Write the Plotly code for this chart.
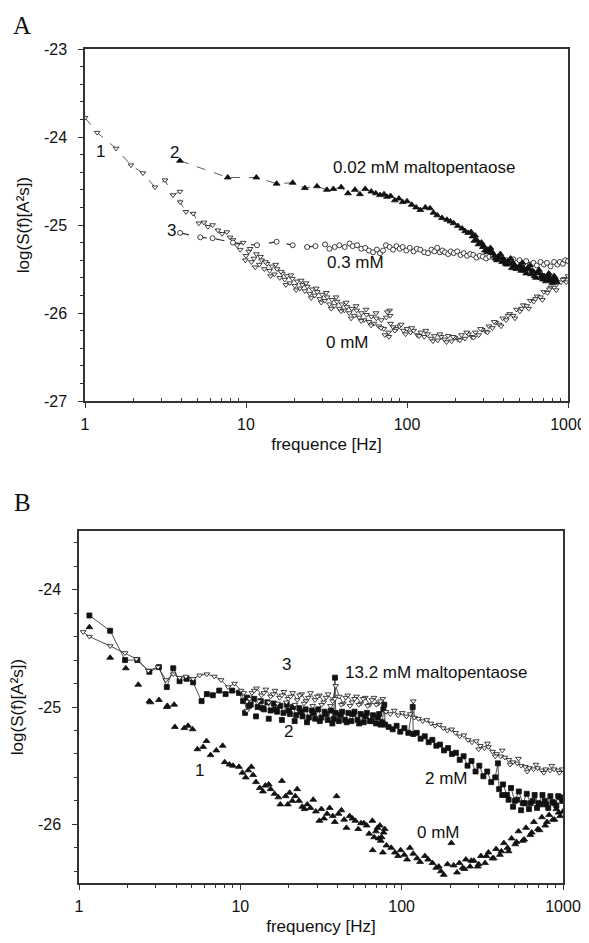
import numpy as np
import plotly.graph_objects as go

# ---------------- Panel A data ----------------
# series 1: 0 mM (open down-triangles); first points joined by dashed line
fA1 = [1.0, 1.19, 1.56, 1.93, 2.29, 2.72, 3.14, 3.52, 3.89, 3.9, 4.24, 4.70, 5.1, 5.48, 5.8, 6.2, 6.7, 7.1, 7.6, 7.96, 8.3, 8.8,
       9.2, 9.6, 10.0, 10.4, 10.8, 11.2, 11.6, 12.1, 12.5, 13.0, 13.5, 14.0, 14.5, 15.0, 15.6, 16.2, 16.8, 17.4, 18.0, 18.7,
       19.4, 20.1, 20.8, 21.6, 22.4, 23.2, 24.0, 24.9, 25.8, 26.7, 27.7, 28.7, 29.7, 30.8, 31.9, 33.0, 34.2, 35.4, 36.7, 38.0,
       39.4, 40.8, 42.3, 43.8, 45.4, 47.0, 48.7, 50.4, 52.2, 54.1, 56.0, 58.0, 60.1, 62.3, 64.5, 66.8, 69.2, 71.7, 74.3, 76.9,
       78.0, 79.0, 82, 86, 90, 95, 100, 105, 110, 116, 122, 128, 134, 141, 148, 155, 163, 171, 180, 189, 198, 208, 218, 229,
       241, 253, 266, 279, 293, 308, 323, 339, 356, 374, 393, 413, 434, 456, 479, 503, 528, 555, 583, 612, 643, 675, 709, 745,
       782, 822, 863, 906, 952, 1000]
sA1 = [-23.78, -23.95, -24.13, -24.32, -24.41, -24.57, -24.49, -24.66, -24.62, -24.74, -24.85, -24.87, -24.98, -24.97, -25.02,
       -25.00, -25.06, -25.10, -25.08, -25.14, -25.17, -25.23,
       -25.28, -25.20, -25.35, -25.30, -25.42, -25.38, -25.33, -25.45, -25.40, -25.50, -25.44, -25.52, -25.47, -25.56, -25.50,
       -25.60, -25.55, -25.62, -25.58, -25.66, -25.61, -25.69, -25.64, -25.72, -25.68, -25.75, -25.70, -25.78, -25.73, -25.80,
       -25.76, -25.84, -25.79, -25.86, -25.82, -25.90, -25.85, -25.92, -25.87, -25.95, -25.90, -25.97, -25.93, -26.00, -25.95,
       -26.03, -25.97, -26.05, -26.00, -26.08, -26.02, -26.10, -26.04, -26.12, -26.06, -26.15, -26.08, -26.18, -26.05, -26.22,
       -25.97, -26.12, -26.16, -26.18, -26.15, -26.20, -26.18, -26.22, -26.20, -26.25, -26.22, -26.27, -26.24, -26.29, -26.26,
       -26.31, -26.27, -26.30, -26.26, -26.32, -26.28, -26.30, -26.25, -26.29, -26.24, -26.27, -26.22, -26.25, -26.19, -26.21,
       -26.15, -26.17, -26.11, -26.13, -26.06, -26.08, -26.01, -26.03, -25.96, -25.98, -25.91, -25.92, -25.86, -25.87, -25.81,
       -25.82, -25.76, -25.77, -25.71, -25.71, -25.66, -25.65, -25.61, -25.58]
nA1_line = 22
# extra scattered points of the 0 mM band
fA1x = [9.9, 10.6, 11.4, 12.3, 13.2, 14.2, 15.3, 16.5, 17.7, 19.0, 20.5, 22.0, 23.6, 25.4, 27.3, 29.3, 31.5, 33.8, 36.3, 39.0,
        41.9, 45.0, 48.3, 51.9, 55.7, 59.8, 64.2, 68.9, 72.9, 75.5, 77.2, 78.6,
        84, 92, 98, 107, 119, 131, 145, 160, 176, 193, 213, 235, 259, 286, 316, 348, 384, 424, 468, 516, 570, 628, 693, 765,
        845, 930, 975]
sA1x = [-25.40, -25.27, -25.48, -25.36, -25.42, -25.58, -25.45, -25.53, -25.68, -25.57, -25.74, -25.63, -25.66, -25.83, -25.72,
        -25.88, -25.77, -25.95, -25.82, -25.98, -25.88, -26.06, -25.92, -26.09, -25.96, -26.14, -26.00, -26.17, -26.25, -25.99,
        -26.27, -26.03,
        -26.20, -26.13, -26.24, -26.17, -26.26, -26.20, -26.32, -26.24, -26.33, -26.27, -26.31, -26.22, -26.28, -26.18, -26.22,
        -26.10, -26.15, -26.03, -26.06, -25.95, -25.95, -25.84, -25.85, -25.73, -25.74, -25.62, -25.65]

# series 2: 0.02 mM (filled up-triangles)
fA2 = [3.89, 7.7, 11.6, 15.5, 19.5, 23.2, 27.6, 31.8, 34.9, 39, 43, 47.5, 51, 55, 60,
       64, 68, 72, 75, 79, 84, 89, 94, 100, 107, 114, 121, 130, 139, 146, 154, 165, 177, 186, 195, 207, 220, 230, 240, 250,
       255, 262, 271, 283, 290, 296, 305, 318, 330, 341, 355, 368, 380, 395, 410, 425, 440, 455, 470, 505, 520, 540, 560,
       580, 600, 620, 645, 660, 690, 700, 740, 760, 775, 790, 810, 830, 850]
sA2 = [-24.27, -24.46, -24.46, -24.53, -24.52, -24.58, -24.56, -24.60, -24.59, -24.57, -24.64, -24.60, -24.65, -24.59, -24.62,
       -24.64, -24.66, -24.65, -24.68, -24.67, -24.72, -24.70, -24.74, -24.73, -24.77, -24.80, -24.83, -24.80, -24.81, -24.86,
       -24.89, -24.92, -24.94, -24.96, -24.98, -25.01, -25.04, -25.07, -25.09, -25.08, -25.13, -25.18, -25.17, -25.21, -25.20,
       -25.25, -25.29, -25.28, -25.26, -25.32, -25.38, -25.36, -25.33, -25.38, -25.44, -25.41, -25.38, -25.43, -25.47, -25.46,
       -25.43, -25.52, -25.49, -25.46, -25.52, -25.58, -25.55, -25.51, -25.57, -25.62, -25.59, -25.55, -25.62, -25.63, -25.64,
       -25.60, -25.65]
nA2_line = 15
fA2x = [265, 278, 300, 315, 335, 350, 362, 375, 390, 402, 418, 432, 448, 462, 478, 495, 512, 530, 550, 570, 590, 610, 632, 655,
        680, 710, 730, 750, 770, 800, 820, 840]
sA2x = [-25.12, -25.22, -25.24, -25.31, -25.30, -25.35, -25.40, -25.37, -25.42, -25.40, -25.45, -25.43, -25.49, -25.45, -25.50,
        -25.48, -25.52, -25.49, -25.55, -25.50, -25.56, -25.53, -25.60, -25.54, -25.60, -25.58, -25.64, -25.57, -25.60, -25.66,
        -25.58, -25.62]

# series 3: 0.3 mM (open circles)
fA3 = [3.9, 5.2, 6.2, 8.3, 11.7, 15.5, 19.5, 24, 27, 31,
       33, 35.6, 38, 41, 44, 46, 49, 52, 55, 58, 61.5, 65, 68, 71, 74, 78, 82, 86, 90, 94, 99, 104, 110, 115, 121, 128, 135,
       142, 148, 154, 160, 166, 172, 180, 187, 195, 205, 215, 225, 236, 247, 258, 270, 283, 296, 310, 325, 341, 358, 376, 395,
       415, 436, 458, 480, 500, 525, 550, 580, 610, 640, 675, 710, 740, 780, 820, 860, 890, 930, 960, 1000]
sA3 = [-25.09, -25.14, -25.15, -25.20, -25.23, -25.19, -25.23, -25.25, -25.24, -25.22,
       -25.27, -25.25, -25.23, -25.25, -25.21, -25.24, -25.23, -25.27, -25.26, -25.29, -25.31, -25.28, -25.32, -25.29, -25.23,
       -25.25, -25.28, -25.24, -25.27, -25.25, -25.29, -25.26, -25.30, -25.27, -25.28, -25.31, -25.32, -25.28, -25.30, -25.26,
       -25.31, -25.29, -25.31, -25.33, -25.30, -25.32, -25.30, -25.34, -25.32, -25.35, -25.33, -25.34, -25.37, -25.35, -25.36,
       -25.38, -25.36, -25.36, -25.39, -25.37, -25.40, -25.40, -25.42, -25.39, -25.43, -25.40, -25.44, -25.41, -25.45, -25.43,
       -25.46, -25.42, -25.45, -25.43, -25.47, -25.42, -25.45, -25.42, -25.44, -25.40, -25.41]
nA3_line = 10

# ---------------- Panel B data ----------------
# series 1: 0 mM (filled up-triangles, no line)
fB1 = [1.16, 1.56, 1.95, 2.33, 2.73, 3.13, 3.5, 3.89, 2.77, 3.53, 3.93, 4.5, 4.74, 5.06, 5.42, 5.88, 6.17, 6.54, 7.1, 7.77,
       8.0, 8.56, 9.0, 9.8, 10.3, 11.2, 11.7, 12.5, 13.2, 14.3, 15.4, 17.2, 18.1, 19.1, 20.2, 17.7, 19.7, 21.9, 23.1, 25.0,
       27.2, 29.4, 31.8, 34.5, 37.4, 39.5, 30.9, 40.6, 44.0, 47.6, 51.6, 56.0, 60.7, 65.8, 69.3, 73.3, 75.1, 77.3, 67.6, 66.1,
       76.4, 86.1, 90.8, 103.8, 112.5, 124.6, 139.3, 155.2, 163.7, 182.4, 192.3, 203.2, 220.3, 238.8, 265.5, 296.1, 328.5,
       365.4, 406.4, 453.2, 505.8, 562.3, 626.7, 699.0, 776.2, 865.6, 1000,
       250, 280, 310, 345, 385, 430, 480, 530, 590, 660, 740, 820, 910, 960,
       10.8, 12.0, 13.8, 15.0, 16.3, 21.0, 22.5, 24.2, 26.0, 28.3, 33.0, 35.8, 38.5, 42.3, 45.5, 49.5, 53.8, 58.3, 62.9, 70.8,
       72.1, 74.2, 78.5, 80.5, 95.0, 98.5, 108, 118, 130, 146, 170, 175, 210, 228, 245, 270, 300, 335, 372, 415, 460, 515, 575,
       640, 715, 795, 885, 940]
sB1 = [-24.32, -24.58, -24.67, -24.81, -24.95, -24.94, -25.00, -24.98, -24.96, -24.99, -25.17, -25.18, -25.16, -25.19, -25.36,
       -25.34, -25.29, -25.41, -25.37, -25.33, -25.47, -25.49, -25.50, -25.51, -25.56, -25.54, -25.51, -25.64, -25.69, -25.67,
       -25.70, -25.77, -25.63, -25.76, -25.73, -25.83, -25.83, -25.76, -25.80, -25.87, -25.86, -25.89, -25.87, -25.91, -25.93,
       -25.76, -25.97, -25.91, -25.96, -25.93, -25.97, -25.99, -26.01, -25.97, -26.06, -26.01, -26.11, -26.07, -26.11, -26.22,
       -26.24, -26.20, -26.24, -26.26, -26.20, -26.29, -26.27, -26.33, -26.37, -26.43, -26.34, -26.16, -26.41, -26.37, -26.36,
       -26.36, -26.33, -26.29, -26.26, -26.20, -26.17, -26.14, -26.09, -26.04, -26.01, -25.96, -25.89,
       -26.30, -26.31, -26.27, -26.24, -26.21, -26.16, -26.12, -26.06, -26.03, -25.98, -25.94, -25.92, -25.87, -25.93,
       -25.60, -25.58, -25.72, -25.66, -25.74, -25.80, -25.70, -25.85, -25.83, -25.79, -25.95, -25.86, -25.98, -25.88, -26.03,
       -25.95, -26.04, -25.99, -26.08, -26.03, -26.12, -26.14, -26.04, -26.18, -26.27, -26.22, -26.30, -26.25, -26.32, -26.30,
       -26.36, -26.40, -26.35, -26.33, -26.38, -26.31, -26.34, -26.27, -26.29, -26.23, -26.23, -26.15, -26.13, -26.07, -26.05,
       -25.98, -25.96, -25.90]

# series 2: 2 mM (filled squares, solid line)
fB2 = [1.16, 1.56, 1.93, 2.3, 2.73, 3.13, 3.5, 3.84, 4.2, 4.65, 5.1, 5.75, 6.2, 6.75, 7.4, 8.1, 8.9, 9.8, 10.4, 11.0, 11.6,
       12.2, 12.8, 13.4, 14.0, 14.7, 15.4, 16.1, 16.9, 17.7, 18.5, 19.4, 20.3, 21.2, 22.2, 23.2, 24.3, 25.4, 26.6, 27.8, 29.1,
       30.4, 31.8, 33.3, 34.8, 36.4, 38.0, 38.6, 39.0, 40.8, 42.7, 44.6, 46.7, 48.8, 51.0, 53.3, 55.7, 58.2, 60.8, 63.5, 66.4,
       69.4, 72.5, 75.8, 78, 79, 83, 88, 93, 98, 104, 110, 117, 118, 124, 131, 139, 147, 155, 164, 173, 183, 194, 205, 217,
       229, 242, 256, 271, 287, 303, 321, 339, 359, 380, 395, 402, 425, 450, 476, 503, 532, 563, 596, 630, 667, 705, 746, 789,
       835, 883, 934, 988]
sB2 = [-24.22, -24.35, -24.60, -24.60, -24.70, -24.66, -24.83, -24.67, -24.78, -24.76, -24.79, -24.95, -24.89, -24.90, -24.86,
       -24.89, -24.86, -24.88, -24.95, -24.92, -24.98, -24.93, -25.00, -24.95, -25.02, -24.96, -25.03, -24.97, -25.04, -24.99,
       -25.05, -24.98, -25.06, -25.00, -25.07, -25.01, -25.08, -25.02, -25.09, -25.03, -25.10, -25.02, -25.09, -25.04, -25.11,
       -25.03, -25.10, -24.75, -25.05, -25.12, -25.04, -25.11, -25.05, -25.12, -25.04, -25.11, -25.06, -25.13, -25.05, -25.12,
       -25.07, -25.14, -25.06, -25.13, -24.98, -25.15, -25.17, -25.19, -25.16, -25.21, -25.18, -25.22, -25.00, -25.23, -25.22,
       -25.27, -25.25, -25.30, -25.28, -25.33, -25.32, -25.37, -25.35, -25.40, -25.39, -25.45, -25.42, -25.50, -25.46, -25.55,
       -25.50, -25.59, -25.55, -25.64, -25.60, -25.48, -25.70, -25.66, -25.75, -25.69, -25.80, -25.72, -25.82, -25.74, -25.82,
       -25.75, -25.82, -25.75, -25.83, -25.76, -25.82, -25.76, -25.80]
fB2x = [10.7, 11.3, 12.5, 13.7, 15.0, 16.5, 18.1, 19.9, 21.7, 23.7, 25.9, 28.4, 31.1, 34.0, 37.2, 41.7, 45.6, 49.9, 54.5, 59.5,
        65.0, 71.0, 74.0, 77.0, 420, 460, 490, 520, 550, 580, 615, 650, 690, 730, 770, 810, 860, 910, 960]
sB2x = [-25.05, -24.99, -25.08, -25.01, -25.10, -25.02, -25.11, -25.03, -25.12, -25.04, -25.13, -25.05, -25.12, -25.06, -25.14,
        -25.07, -25.13, -25.06, -25.14, -25.08, -25.12, -25.09, -25.15, -25.02, -25.75, -25.79, -25.85, -25.79, -25.88, -25.82,
        -25.87, -25.80, -25.86, -25.83, -25.80, -25.86, -25.81, -25.84, -25.77]

# series 3: 13.2 mM (open down-triangles, solid line)
fB3 = [1.06, 1.16, 1.56, 1.93, 2.27, 2.69, 3.09, 3.46, 3.84, 4.2, 4.6, 5.1, 5.6, 6.2, 6.9, 7.6, 8.4, 9.2, 10.1, 11.0, 11.8,
       12.6, 13.5, 14.4, 15.4, 16.4, 17.5, 18.6, 19.8, 21.1, 22.5, 24.0, 25.5, 27.2, 29.0, 30.9, 32.9, 35.0, 37.3, 39.0, 41.0,
       43.5, 46.3, 49.3, 52.5, 55.9, 59.5, 63.3, 67.4, 71.7, 76.3, 80, 85, 90, 95, 101, 107, 113, 118, 120, 127, 135, 143, 152,
       161, 171, 181, 192, 204, 216, 229, 243, 258, 273, 290, 307, 326, 345, 366, 388, 411, 436, 462, 490, 520, 551, 584, 619,
       657, 696, 738, 783, 830, 880, 933, 990]
sB3 = [-24.36, -24.40, -24.48, -24.54, -24.59, -24.69, -24.66, -24.77, -24.72, -24.75, -24.74, -24.76, -24.73, -24.72, -24.74,
       -24.77, -24.83, -24.80, -24.86, -25.03, -24.88, -24.84, -24.90, -24.85, -24.91, -24.86, -24.92, -24.87, -24.93, -24.88,
       -24.94, -24.89, -24.95, -24.88, -24.94, -24.90, -24.96, -24.89, -24.95, -24.82, -24.91, -24.97, -24.90, -24.96, -24.91,
       -24.97, -24.92, -24.98, -24.92, -24.97, -24.93, -25.04, -25.06, -25.03, -25.07, -25.05, -25.08, -25.06, -24.95, -25.09,
       -25.10, -25.12, -25.11, -25.14, -25.16, -25.15, -25.18, -25.20, -25.19, -25.22, -25.25, -25.24, -25.28, -25.30, -25.29,
       -25.33, -25.35, -25.34, -25.38, -25.40, -25.42, -25.43, -25.45, -25.47, -25.48, -25.50, -25.51, -25.52, -25.53, -25.52,
       -25.54, -25.53, -25.54, -25.53, -25.54, -25.53]
fB3x = [10.5, 11.4, 12.2, 13.0, 14.0, 15.0, 16.0, 17.0, 18.1, 19.3, 20.5, 21.8, 23.3, 24.8, 26.4, 28.1, 30.0, 31.9, 34.0, 36.2,
        38.5, 42.2, 45.0, 47.8, 51.0, 54.2, 57.7, 61.5, 65.4, 69.6, 74.0, 300, 340, 380, 420, 470, 530, 600, 680, 760, 850, 950]
sB3x = [-24.88, -24.93, -24.86, -24.95, -24.88, -24.96, -24.89, -24.97, -24.90, -24.96, -24.91, -24.98, -24.90, -24.97, -24.92,
        -24.99, -24.91, -24.98, -24.92, -24.99, -24.93, -24.98, -24.92, -24.99, -24.93, -24.98, -24.93, -24.99, -24.94, -24.98,
        -24.95, -25.36, -25.31, -25.42, -25.37, -25.49, -25.44, -25.55, -25.49, -25.56, -25.50, -25.56]

# ---------------- Text labels ----------------
labelsA = [("1", 1.24, -24.17, "center"), ("2", 3.62, -24.18, "center"), ("3", 3.47, -25.06, "center"),
           ("0.02 mM maltopentaose", 127, -24.35, "center"), ("0.3 mM", 48, -25.43, "center"),
           ("0 mM", 43, -26.34, "center")]
labelsB = [("3", 19.2, -24.64, "center"), ("13.2 mM maltopentaose", 43.3, -24.71, "left"), ("2", 20, -25.21, "center"),
           ("1", 5.6, -25.54, "center"), ("2 mM", 136, -25.61, "left"), ("0 mM", 168, -26.07, "center")]

xticks = [1, 10, 100, 1000]
xminor = [2, 3, 4, 5, 6, 7, 8, 9, 20, 30, 40, 50, 60, 70, 80, 90, 200, 300, 400, 500, 600, 700, 800, 900]
yticksA = [-27, -26, -25, -24, -23]
yticksB = [-26, -25, -24]

# page is drawn with an 8 px body margin: figure size / positions compensate for it
OFF = 8
W, H = 589 - OFF, 943 - OFF
FONT = "Liberation Sans, Arial, sans-serif"
INK = "#111111"


def dx(px):
    return (px - OFF) / W


def dy(py):
    return 1 - (py - OFF) / H


fig = go.Figure()


def marker_of(symbol, size, filled):
    return dict(symbol=symbol, size=size, color=INK if filled else "white", line=dict(color=INK, width=0.8))


def add_series(f, s, xa, ya, symbol, size, filled, nline, dash, all_line=False, lw=0.8):
    m = marker_of(symbol, size, filled)
    if all_line:
        fig.add_trace(go.Scatter(x=f, y=s, mode="lines+markers", xaxis=xa, yaxis=ya,
                                 line=dict(color="#222", width=lw, dash=dash), marker=m, showlegend=False))
        return
    if nline:
        fig.add_trace(go.Scatter(x=f[:nline], y=s[:nline], mode="lines+markers", xaxis=xa, yaxis=ya,
                                 line=dict(color="#333", width=lw, dash=dash), marker=m, showlegend=False))
    fig.add_trace(go.Scatter(x=f[nline:], y=s[nline:], mode="markers", xaxis=xa, yaxis=ya, marker=m, showlegend=False))


def add_points(f, s, xa, ya, symbol, size, filled):
    fig.add_trace(go.Scatter(x=f, y=s, mode="markers", xaxis=xa, yaxis=ya, marker=marker_of(symbol, size, filled),
                             showlegend=False))


# Panel A
add_series(fA1, sA1, "x", "y", "triangle-down", 5, False, nA1_line, "dash")
add_points(fA1x, sA1x, "x", "y", "triangle-down", 5, False)
add_series(fA3, sA3, "x", "y", "circle", 5, False, nA3_line, "dash", lw=1.2)
add_series(fA2, sA2, "x", "y", "triangle-up", 6, True, nA2_line, "dash")
add_points(fA2x, sA2x, "x", "y", "triangle-up", 6, True)
# Panel B
add_points(fB1, sB1, "x2", "y2", "triangle-up", 6, True)
add_series(fB2, sB2, "x2", "y2", "square", 5, True, 0, "solid", all_line=True)
add_points(fB2x, sB2x, "x2", "y2", "square", 5, True)
add_series(fB3, sB3, "x2", "y2", "triangle-down", 5, False, 0, "solid", all_line=True)
add_points(fB3x, sB3x, "x2", "y2", "triangle-down", 5, False)

tickfont = dict(family=FONT, size=16, color=INK)
titlefont = dict(family=FONT, size=17, color=INK)
axis_common = dict(showgrid=False, zeroline=False, showline=True, linecolor="#333", linewidth=1.5, mirror=True,
                   ticks="outside", ticklen=5, tickwidth=1, tickcolor="#333", tickfont=tickfont, automargin=False)


def xaxis_def(domain, anchor, title, minor_dir):
    return dict(axis_common, type="log", range=[0, 3], domain=domain, anchor=anchor,
                tickmode="array", tickvals=xticks, ticktext=[str(v) for v in xticks], ticklabelstandoff=3,
                minor=dict(ticks=minor_dir, ticklen=3, tickcolor="#333", tickmode="array", tickvals=xminor),
                title=dict(text=title, font=titlefont, standoff=6))


def yaxis_def(domain, anchor, rng, vals, t0):
    return dict(axis_common, domain=domain, anchor=anchor, range=rng, tickmode="array", tickvals=vals,
                ticktext=["-%d" % abs(v) for v in vals], ticklabelstandoff=8,
                minor=dict(ticks="outside", ticklen=3, dtick=0.2, tick0=t0, tickcolor="#333"),
                title=dict(text="log(S(f)[A²s])", font=titlefont, standoff=10))


fig.update_layout(
    width=W, height=H, margin=dict(l=0, r=0, t=0, b=0, autoexpand=False),
    paper_bgcolor="white", plot_bgcolor="white",
    font=dict(family=FONT, size=16, color=INK),
    xaxis=xaxis_def([dx(85), dx(568)], "y", "frequence [Hz]", "inside"),
    yaxis=yaxis_def([dy(401), dy(49)], "x", [-27, -23], yticksA, -23),
    xaxis2=xaxis_def([dx(79), dx(563)], "y2", "frequency [Hz]", "outside"),
    yaxis2=yaxis_def([dy(883), dy(531)], "x2", [-26.5, -23.5], yticksB, -24),
)

for txt, fx, fy, anc in labelsA:
    fig.add_annotation(x=np.log10(fx), y=fy, xref="x", yref="y", text=txt, showarrow=False, xanchor=anc,
                       font=dict(family=FONT, size=17, color=INK))
for txt, fx, fy, anc in labelsB:
    fig.add_annotation(x=np.log10(fx), y=fy, xref="x2", yref="y2", text=txt, showarrow=False, xanchor=anc,
                       font=dict(family=FONT, size=17, color=INK))

serif = dict(family="Liberation Serif, Times New Roman, serif", size=25, color=INK)
fig.add_annotation(x=dx(11), y=dy(10), xref="paper", yref="paper", text="A", showarrow=False,
                   xanchor="left", yanchor="top", font=serif)
fig.add_annotation(x=dx(12), y=dy(502), xref="paper", yref="paper", text="B", showarrow=False,
                   xanchor="left", yanchor="middle", font=serif)

fig.write_html("out.html")
